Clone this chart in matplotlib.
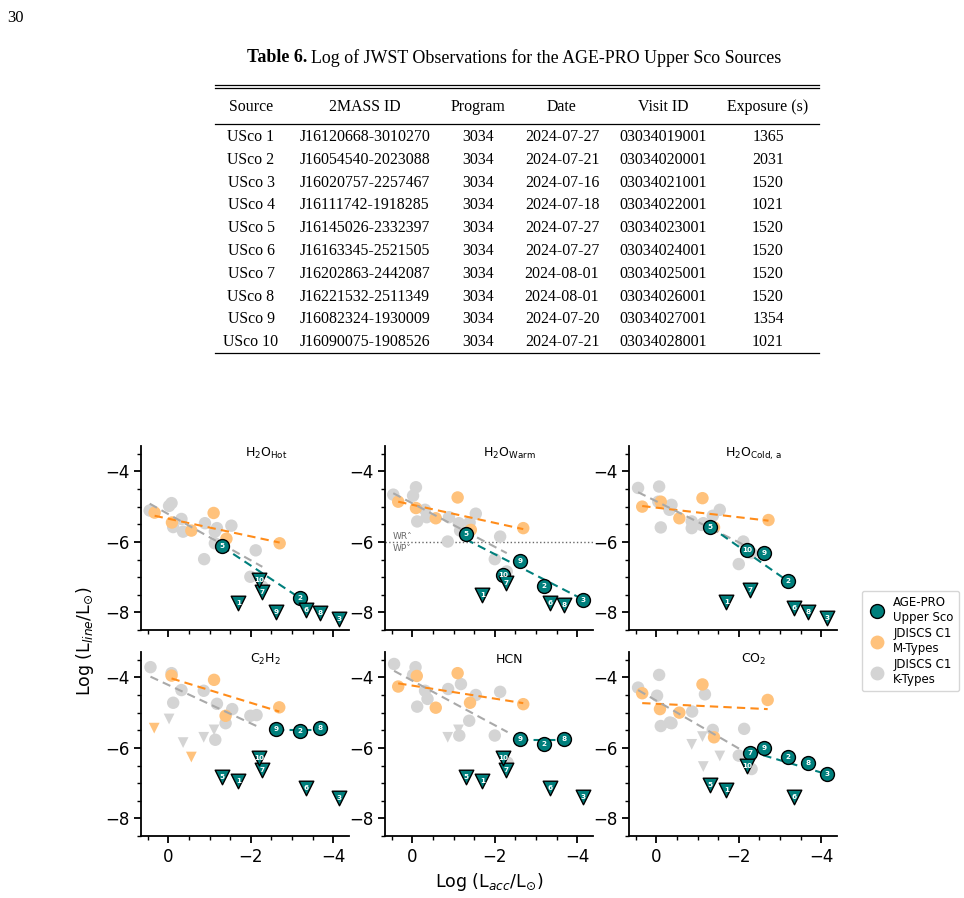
import matplotlib
matplotlib.use("Agg")
import matplotlib.pyplot as plt
from matplotlib.lines import Line2D
from matplotlib.ticker import MultipleLocator
import numpy as np

# ---------------- table data ----------------
tab_sources = ["USco 1", "USco 2", "USco 3", "USco 4", "USco 5",
               "USco 6", "USco 7", "USco 8", "USco 9", "USco 10"]
tab_2mass = ["J16120668-3010270", "J16054540-2023088", "J16020757-2257467",
             "J16111742-1918285", "J16145026-2332397", "J16163345-2521505",
             "J16202863-2442087", "J16221532-2511349", "J16082324-1930009",
             "J16090075-1908526"]
tab_program = ["3034"] * 10
tab_date = ["2024-07-27", "2024-07-21", "2024-07-16", "2024-07-18", "2024-07-27",
            "2024-07-27", "2024-08-01", "2024-08-01", "2024-07-20", "2024-07-21"]
tab_visit = ["03034019001", "03034020001", "03034021001", "03034022001",
             "03034023001", "03034024001", "03034025001", "03034026001",
             "03034027001", "03034028001"]
tab_exposure = ["1365", "2031", "1520", "1021", "1520",
                "1520", "1520", "1520", "1354", "1021"]
tab_header = ["Source", "2MASS ID", "Program", "Date", "Visit ID", "Exposure (s)"]

# ---------------- AGE-PRO Upper Sco ----------------
usco_id = [1, 2, 3, 5, 6, 7, 8, 9, 10]
usco_lacc = [-1.70, -3.20, -4.14, -1.30, -3.35, -2.28, -3.67, -2.61, -2.20]

usco_hot = [-7.74, -7.60, -8.19, -6.13, -7.93, -7.41, -8.03, -7.98, -7.08]
usco_hot_ul = [1, 0, 1, 0, 1, 1, 1, 1, 1]
usco_warm = [-7.50, -7.24, -7.65, -5.77, -7.72, -7.17, -7.79, -6.54, -6.94]
usco_warm_ul = [1, 0, 0, 0, 1, 1, 1, 0, 0]
usco_cold = [-7.71, -7.10, -8.17, -5.57, -7.88, -7.36, -7.98, -6.32, -6.23]
usco_cold_ul = [1, 0, 1, 0, 1, 1, 1, 0, 0]
usco_c2h2 = [-6.95, -5.52, -7.41, -6.84, -7.14, -6.62, -5.44, -5.47, -6.29]
usco_c2h2_ul = [1, 0, 1, 1, 1, 1, 0, 0, 1]
usco_hcn = [-6.95, -5.89, -7.40, -6.84, -7.14, -6.62, -5.75, -5.75, -6.29]
usco_hcn_ul = [1, 0, 1, 1, 1, 1, 0, 0, 1]
usco_co2 = [-7.19, -6.25, -6.75, -7.05, -7.38, -6.15, -6.42, -6.01, -6.51]
usco_co2_ul = [1, 0, 0, 1, 1, 0, 0, 0, 1]

# ---------------- JDISCS K-types ----------------
k_hot_x = [0.45, -0.02, -0.08, -0.12, -0.32, -0.36, -0.89, -0.87, -1.13, -1.18, -1.13, -1.53, -2.12, -1.99, -2.28]
k_hot_y = [-5.11, -4.98, -4.90, -5.58, -5.35, -5.71, -5.47, -6.49, -5.71, -5.61, -6.04, -5.54, -6.24, -6.99, -7.27]
k_warm_x = [0.46, -0.09, -0.02, -0.12, -0.31, -0.35, -0.86, -0.89, -1.13, -1.16, -1.39, -1.54, -2.13, -2.00, -2.29]
k_warm_y = [-4.66, -4.45, -4.69, -5.42, -5.09, -5.30, -5.99, -5.30, -5.47, -5.68, -5.45, -5.20, -5.85, -6.49, -6.84]
k_cold_x = [0.44, -0.07, -0.05, -0.11, -0.32, -0.37, -0.86, -0.86, -1.10, -1.14, -1.37, -1.54, -2.11, -2.00, -2.31]
k_cold_y = [-4.47, -4.43, -4.86, -5.59, -5.09, -4.95, -5.61, -5.42, -5.52, -5.47, -5.26, -5.09, -5.99, -6.63, -6.32]
k_c2h2_x = [0.43, -0.08, -0.12, -0.32, -0.86, -1.18, -1.14, -1.39, -1.55, -1.99, -2.14]
k_c2h2_y = [-3.71, -3.88, -4.72, -4.36, -4.38, -4.75, -5.77, -5.30, -4.90, -5.09, -5.07]
k_c2h2_ulx = [-0.02, -0.36, -0.86, -1.11, -2.23]
k_c2h2_uly = [-5.18, -5.85, -5.70, -5.49, -6.29]
k_hcn_x = [0.44, -0.08, -0.02, -0.12, -0.31, -0.37, -0.87, -1.18, -1.14, -1.38, -1.54, -2.13, -2.00, -2.31]
k_hcn_y = [-3.62, -3.71, -3.93, -4.83, -4.38, -4.61, -4.33, -4.19, -5.65, -5.23, -4.50, -4.41, -5.65, -6.42]
k_hcn_ulx = [-0.86, -1.12, -2.21]
k_hcn_uly = [-5.70, -5.49, -6.29]
k_co2_x = [0.44, -0.07, -0.02, -0.11, -0.33, -0.37, -0.87, -1.18, -1.37, -2.13, -2.00, -2.31]
k_co2_y = [-4.29, -3.93, -4.52, -5.38, -5.28, -5.30, -4.97, -4.48, -5.49, -5.46, -6.22, -6.60]
k_co2_ulx = [-0.86, -1.12, -1.14, -1.54]
k_co2_uly = [-5.90, -5.68, -6.53, -6.23]

# ---------------- JDISCS M-types ----------------
m_hot_x = [0.33, -0.09, -0.56, -1.10, -1.41, -2.70]
m_hot_y = [-5.17, -5.45, -5.68, -5.18, -5.91, -6.04]
m_warm_x = [0.34, -0.09, -0.57, -1.10, -1.42, -2.69]
m_warm_y = [-4.86, -5.04, -5.33, -4.74, -5.66, -5.61]
m_cold_x = [0.34, -0.11, -0.56, -1.12, -1.40, -2.72]
m_cold_y = [-5.00, -4.86, -5.33, -4.76, -5.59, -5.38]
m_c2h2_x = [-0.08, -1.11, -1.39, -2.69]
m_c2h2_y = [-3.95, -4.07, -5.09, -4.85]
m_c2h2_ulx = [0.34, -0.56]
m_c2h2_uly = [-5.44, -6.26]
m_hcn_x = [0.34, -0.11, -0.57, -1.10, -1.40, -2.69]
m_hcn_y = [-4.26, -3.96, -4.86, -3.88, -4.72, -4.76]
m_co2_x = [0.34, -0.09, -0.56, -1.12, -1.40, -2.70]
m_co2_y = [-4.45, -4.90, -5.00, -4.20, -5.70, -4.64]

# linear fits (slope, intercept): M, K, USco
fit_hot = [(0.251, -5.342), (0.656, -5.211), (0.774, -5.124)]
fit_warm = [(0.257, -4.947), (0.618, -4.904), (0.601, -5.147)]
fit_cold = [(0.136, -5.029), (0.583, -4.847), (0.820, -4.498)]
fit_c2h2 = [(0.360, -4.001), (0.545, -4.214), (0.000, -5.480)]
fit_hcn = [(0.185, -4.233), (0.632, -4.093), (0.000, -5.780)]
fit_co2 = [(0.056, -4.749), (0.679, -4.659), (0.349, -5.304)]

titles = [r"H$_2$O$_{\rm Hot}$", r"H$_2$O$_{\rm Warm}$", r"H$_2$O$_{\rm Cold,\,a}$",
          r"C$_2$H$_2$", "HCN", r"CO$_2$"]

panels = [
    (usco_hot, usco_hot_ul, k_hot_x, k_hot_y, [], [], m_hot_x, m_hot_y, [], [], fit_hot),
    (usco_warm, usco_warm_ul, k_warm_x, k_warm_y, [], [], m_warm_x, m_warm_y, [], [], fit_warm),
    (usco_cold, usco_cold_ul, k_cold_x, k_cold_y, [], [], m_cold_x, m_cold_y, [], [], fit_cold),
    (usco_c2h2, usco_c2h2_ul, k_c2h2_x, k_c2h2_y, k_c2h2_ulx, k_c2h2_uly,
     m_c2h2_x, m_c2h2_y, m_c2h2_ulx, m_c2h2_uly, fit_c2h2),
    (usco_hcn, usco_hcn_ul, k_hcn_x, k_hcn_y, k_hcn_ulx, k_hcn_uly, m_hcn_x, m_hcn_y, [], [], fit_hcn),
    (usco_co2, usco_co2_ul, k_co2_x, k_co2_y, k_co2_ulx, k_co2_uly, m_co2_x, m_co2_y, [], [], fit_co2),
]

TEAL = "#007f7c"
ORANGE_PT = "#ffc27c"
ORANGE_LN = "#ff8c1a"
GRAY_PT = "#d4d4d4"
GRAY_LN = "#a9a9a9"

W, H = 964, 898
fig = plt.figure(figsize=(W / 100, H / 100), dpi=100)

# ---------------- table (page top) ----------------
tax = fig.add_axes([0, 0, 1, 1], zorder=-5)
tax.set_xlim(0, W)
tax.set_ylim(H, 0)
tax.axis("off")
serif = "Liberation Serif"
tax.text(7, 18, "30", fontsize=12, family=serif, va="center", ha="left")
cap = tax.text(247, 58, "Table 6.", fontsize=12.9, family=serif, weight="bold",
               va="center", ha="left")
fig.canvas.draw()
bb = cap.get_window_extent()
tax.text(247 + bb.width + 4, 58, "Log of JWST Observations for the AGE-PRO Upper Sco Sources",
         fontsize=12.9, family=serif, va="center", ha="left")
col_x = [251, 365, 478, 562, 663, 768]
for yl in [84.5, 87.5, 124, 353]:
    tax.plot([215, 819], [yl, yl], color="black", lw=0.9)
for cx, hd in zip(col_x, tab_header):
    tax.text(cx, 107, hd, fontsize=11.4, family=serif, ha="center", va="center")
columns = [tab_sources, tab_2mass, tab_program, tab_date, tab_visit, tab_exposure]
for i in range(10):
    yy = 137 + i * 22.8
    for cx, col in zip(col_x, columns):
        tax.text(cx, yy, col[i], fontsize=11.4, family=serif, ha="center", va="center")

# ---------------- scatter panels ----------------
lefts = [141, 385, 629]
tops = [446, 652]
aw, ah = 208, 184
axes = []
for r in range(2):
    for c in range(3):
        ax = fig.add_axes([lefts[c] / W, 1 - (tops[r] + ah) / H, aw / W, ah / H])
        axes.append(ax)

for i, (ax, p) in enumerate(zip(axes, panels)):
    uy, uul, kx, ky, kux, kuy, mx, my, mux, muy, fits = p
    ux = np.array(usco_lacc)
    uy = np.array(uy)
    uul = np.array(uul, dtype=bool)

    ax.scatter(kx, ky, s=80, color=GRAY_PT, edgecolor="none", zorder=1)
    if kux:
        ax.scatter(kux, kuy, s=60, marker="v", color=GRAY_PT, edgecolor="none", zorder=1)
    ax.scatter(mx, my, s=80, color=ORANGE_PT, edgecolor="none", zorder=2)
    if mux:
        ax.scatter(mux, muy, s=60, marker="v", color=ORANGE_PT, edgecolor="none", zorder=2)

    # fit lines across range of detections
    for (xs, col), (sl, ic) in zip([(mx, ORANGE_LN), (kx, GRAY_LN), (ux[~uul], TEAL)], fits):
        xx = np.array([max(xs), min(xs)])
        ax.plot(xx, sl * xx + ic, ls=(0, (4, 2.5)), color=col, lw=1.5, zorder=3)

    ax.scatter(ux[~uul], uy[~uul], s=100, color=TEAL, edgecolor="black", lw=1.0, zorder=5)
    ax.scatter(ux[uul], uy[uul], s=110, marker="v", color=TEAL, edgecolor="black", lw=1.0, zorder=5)
    for n, xv, yv, ul in zip(usco_id, ux, uy, uul):
        ax.text(xv, yv, str(n), fontsize=5.2, color="white",
                weight="bold", ha="center", va="center", zorder=6)

    if i == 1:
        ax.axhline(-6, color="dimgray", ls=":", lw=1.0, zorder=0)
        ax.text(0.48, -5.84, "WR˄", fontsize=6.5, color="dimgray", ha="left", va="center")
        ax.text(0.48, -6.18, "WP˅", fontsize=6.5, color="dimgray", ha="left", va="center")

    ax.text(0.6, 0.96, titles[i], transform=ax.transAxes, ha="center", va="center", fontsize=9)

    ax.set_xlim(0.66, -4.38)
    ax.set_ylim(-8.5, -3.28)
    ax.xaxis.set_major_locator(MultipleLocator(2))
    ax.xaxis.set_minor_locator(MultipleLocator(0.5))
    ax.yaxis.set_major_locator(MultipleLocator(2))
    ax.yaxis.set_minor_locator(MultipleLocator(0.5))
    ax.spines["top"].set_visible(False)
    ax.spines["right"].set_visible(False)
    ax.spines["left"].set_linewidth(1.3)
    ax.spines["bottom"].set_linewidth(1.3)
    ax.tick_params(which="major", length=5, width=1.3, labelsize=12)
    ax.tick_params(which="minor", length=3, width=1.0)
    if i < 3:
        ax.tick_params(axis="x", labelbottom=False)

fig.text(85 / W, 1 - 641 / H, r"Log (L$_{line}$/L$_{\odot}$)", rotation=90,
         ha="center", va="center", fontsize=12.5)
fig.text(489 / W, 1 - 882 / H, r"Log (L$_{acc}$/L$_{\odot}$)",
         ha="center", va="center", fontsize=12.5)

handles = [
    Line2D([], [], marker="o", ls="none", markersize=10, markerfacecolor=TEAL, markeredgecolor="black"),
    Line2D([], [], marker="o", ls="none", markersize=10, markerfacecolor=ORANGE_PT, markeredgecolor="none"),
    Line2D([], [], marker="o", ls="none", markersize=10, markerfacecolor=GRAY_PT, markeredgecolor="none"),
]
fig.legend(handles, ["AGE-PRO\nUpper Sco", "JDISCS C1\nM-Types", "JDISCS C1\nK-Types"],
           loc="upper left", bbox_to_anchor=(856 / W, 1 - 585 / H), fontsize=8.5,
           frameon=True, handletextpad=0.6, labelspacing=0.25, borderpad=0.45,
           handlelength=1.6)

fig.savefig("out.png", dpi=100)
